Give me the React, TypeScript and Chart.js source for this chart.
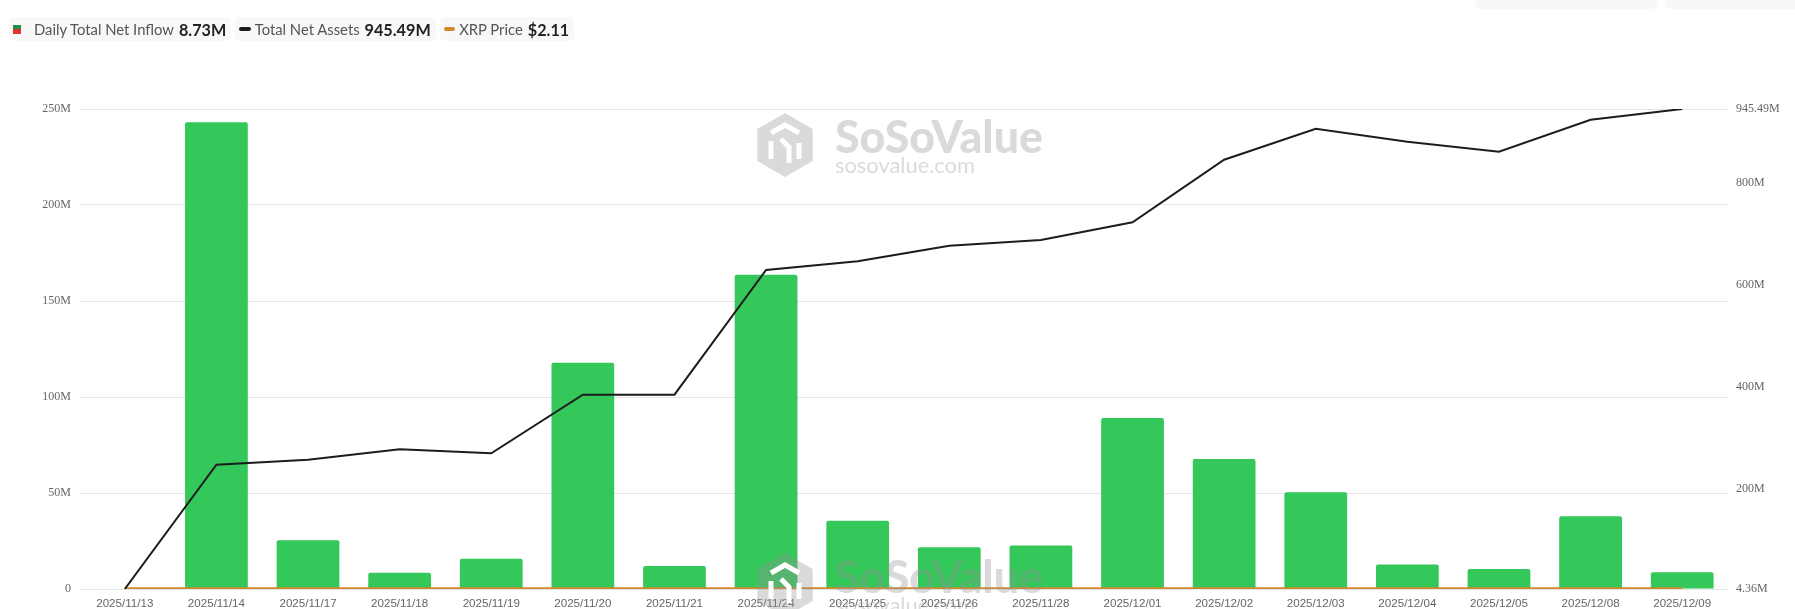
import React, { useEffect, useRef } from "react";
import { Chart, registerables } from "chart.js";

Chart.register(...registerables);

const categories = [
  "2025/11/13", "2025/11/14", "2025/11/17", "2025/11/18", "2025/11/19", "2025/11/20",
  "2025/11/21", "2025/11/24", "2025/11/25", "2025/11/26", "2025/11/28", "2025/12/01",
  "2025/12/02", "2025/12/03", "2025/12/04", "2025/12/05", "2025/12/08", "2025/12/09",
];

// Daily Total Net Inflow, millions USD
const dailyNetInflow = [
  0, 243.1, 25.4, 8.5, 15.8, 117.8, 12.0, 163.7, 35.5, 21.7, 22.6, 89.1,
  67.7, 50.4, 12.8, 10.4, 37.9, 8.73,
];

// Total Net Assets, millions USD
const totalNetAssets = [
  4.36, 248.1, 257.9, 278.3, 270.4, 385.3, 385.3, 629.8, 646.9, 677.5, 688.6, 723.3,
  846.1, 906.9, 881.4, 861.8, 924.5, 945.49,
];

// XRP Price, USD
const xrpPrice = [
  2.42, 2.3, 2.2, 2.17, 2.12, 2.0, 1.95, 2.2, 2.22, 2.2, 2.2, 2.05,
  2.2, 2.18, 2.08, 2.05, 2.08, 2.11,
];

const leftTicks = [0, 50, 100, 150, 200, 250];
const rightTicks = [4.36, 200, 400, 600, 800, 945.49];

const legendItems = [
  { label: "Daily Total Net Inflow", value: "8.73M", kind: "bar" },
  { label: "Total Net Assets", value: "945.49M", kind: "black" },
  { label: "XRP Price", value: "$2.11", kind: "orange" },
];

const GREEN = "#34c759";
const BLACK = "#1c1c1c";
const ORANGE = "#d4882a";

const watermarkPlugin = {
  id: "watermark",
  afterDatasetsDraw(chart: any) {
    const ctx = chart.ctx;
    const draw = (dy: number) => {
      ctx.save();
      ctx.fillStyle = "rgba(150,150,150,0.35)";
      const cx = 785, cy = 145 + dy, r = 32;
      ctx.beginPath();
      for (let i = 0; i < 6; i++) {
        const a = Math.PI / 2 + (i * Math.PI) / 3;
        const px = cx + r * Math.cos(a);
        const py = cy - r * Math.sin(a);
        if (i === 0) ctx.moveTo(px, py);
        else ctx.lineTo(px, py);
      }
      ctx.closePath();
      ctx.fill();
      ctx.globalCompositeOperation = "destination-out";
      ctx.lineWidth = 5;
      ctx.strokeStyle = "rgba(0,0,0,1)";
      ctx.beginPath();
      ctx.moveTo(cx - 14, cy - 12);
      ctx.lineTo(cx, cy - 20);
      ctx.lineTo(cx + 14, cy - 12);
      ctx.moveTo(cx - 14, cy - 4);
      ctx.lineTo(cx - 14, cy + 14);
      ctx.moveTo(cx + 14, cy - 2);
      ctx.lineTo(cx + 14, cy + 14);
      ctx.moveTo(cx - 4, cy - 6);
      ctx.lineTo(cx + 4, cy + 2);
      ctx.lineTo(cx + 4, cy + 18);
      ctx.stroke();
      ctx.restore();

      ctx.save();
      ctx.fillStyle = "rgba(150,150,150,0.35)";
      ctx.textBaseline = "alphabetic";
      ctx.textAlign = "left";
      ctx.font = "900 100px Lato";
      let w = ctx.measureText("SoSoValue").width;
      const s1 = (100 * 208) / w;
      ctx.font = `900 ${s1}px Lato`;
      ctx.fillText("SoSoValue", 835, 153 + dy);
      ctx.font = "400 100px Lato";
      w = ctx.measureText("sosovalue.com").width;
      const s2 = (100 * 140) / w;
      ctx.font = `400 ${s2}px Lato`;
      ctx.fillText("sosovalue.com", 835, 173 + dy);
      ctx.restore();
    };
    draw(0);
    draw(440);
  },
};

function LegendIcon({ kind }: { kind: string }) {
  if (kind === "bar") {
    return (
      <span style={{ display: "inline-block", width: 8, height: 9, marginLeft: 4, marginRight: 13 }}>
        <span style={{ display: "block", height: 4.5, background: "#1f8f4a" }} />
        <span style={{ display: "block", height: 4.5, background: "#e0332b" }} />
      </span>
    );
  }
  return (
    <span
      style={{
        display: "inline-block",
        width: 11.5,
        height: 4,
        borderRadius: 2,
        background: kind === "black" ? BLACK : ORANGE,
        marginLeft: 4,
        marginRight: 4,
      }}
    />
  );
}

export default function App() {
  const canvasRef = useRef<HTMLCanvasElement | null>(null);

  useEffect(() => {
    const canvas = canvasRef.current;
    if (!canvas) return;
    const chart = new Chart(canvas, {
      type: "bar",
      data: {
        labels: categories,
        datasets: [
          {
            type: "line",
            label: "Total Net Assets",
            data: totalNetAssets,
            yAxisID: "y1",
            borderColor: BLACK,
            borderWidth: 2,
            pointRadius: 0,
            tension: 0,
            order: 0,
          },
          {
            type: "line",
            label: "XRP Price",
            data: xrpPrice,
            yAxisID: "y2",
            borderColor: ORANGE,
            borderWidth: 2.5,
            pointRadius: 0,
            tension: 0,
            order: 1,
          },
          {
            type: "bar",
            label: "Daily Total Net Inflow",
            data: dailyNetInflow,
            yAxisID: "y",
            backgroundColor: GREEN,
            borderRadius: { topLeft: 2, topRight: 2, bottomLeft: 0, bottomRight: 0 },
            borderSkipped: "start",
            categoryPercentage: 1,
            barPercentage: 0.685,
            order: 2,
          },
        ],
      } as any,
      options: {
        animation: false,
        responsive: false,
        devicePixelRatio: 1,
        layout: { padding: { top: 109, left: 0, right: 0, bottom: 0 } },
        plugins: {
          legend: { display: false },
          tooltip: { enabled: false },
        },
        scales: {
          x: {
            type: "category",
            offset: true,
            grid: { display: false, drawTicks: false },
            border: { display: false },
            ticks: {
              color: "#666",
              font: { family: "'Liberation Sans', Arial, sans-serif", size: 11.6 },
              padding: 8,
              maxRotation: 0,
              autoSkip: false,
            },
            afterFit: (s: any) => {
              s.height = 20;
            },
          },
          y: {
            position: "left",
            min: 0,
            max: 250,
            afterBuildTicks: (s: any) => {
              s.ticks = leftTicks.map((v) => ({ value: v }));
            },
            ticks: {
              color: "#666",
              font: { family: "'Liberation Serif', 'Times New Roman', serif", size: 12 },
              padding: 8,
              callback: (v: any) => (Number(v) === 0 ? "0" : `${v}M`),
            },
            grid: { color: "#e5e5e5", drawTicks: false, lineWidth: 1 },
            border: { display: false },
            afterFit: (s: any) => {
              s.width = 79;
            },
          },
          y1: {
            position: "right",
            min: 4.36,
            max: 945.49,
            afterBuildTicks: (s: any) => {
              s.ticks = rightTicks.map((v) => ({ value: v }));
            },
            ticks: {
              color: "#666",
              font: { family: "'Liberation Serif', 'Times New Roman', serif", size: 12 },
              padding: 8,
              callback: (v: any) => `${v}M`,
            },
            grid: { display: false, drawTicks: false },
            border: { display: false },
            afterFit: (s: any) => {
              s.width = 67;
            },
          },
          y2: {
            display: false,
            min: 0,
            max: 2000,
          },
        },
      } as any,
      plugins: [watermarkPlugin],
    });
    return () => chart.destroy();
  }, []);

  return (
    <div
      style={{
        position: "absolute",
        left: 0,
        top: 0,
        width: 1795,
        height: 609,
        background: "#fff",
        overflow: "hidden",
      }}
    >
      <canvas
        ref={canvasRef}
        width={1795}
        height={609}
        style={{ position: "absolute", left: 0, top: 0, width: 1795, height: 609 }}
      />
      <div
        style={{
          position: "absolute",
          left: 1476,
          top: -22,
          width: 181,
          height: 31,
          background: "#f7f7f7",
          borderRadius: 6,
        }}
      />
      <div
        style={{
          position: "absolute",
          left: 1665,
          top: -22,
          width: 150,
          height: 31,
          background: "#f7f7f7",
          borderRadius: 6,
        }}
      />
      <div
        style={{
          position: "absolute",
          left: 9,
          top: 17,
          display: "flex",
          gap: 4,
          fontFamily: "Lato, 'Noto Sans', sans-serif",
        }}
      >
        {legendItems.map((it) => (
          <div
            key={it.label}
            style={{
              display: "flex",
              alignItems: "center",
              height: 24,
              background: "#f8f8f8",
              borderRadius: 5,
              paddingRight: 5,
              whiteSpace: "nowrap",
            }}
          >
            <LegendIcon kind={it.kind} />
            <span style={{ fontSize: 14.8, color: "#555" }}>{it.label}</span>
            <span style={{ fontSize: 16.2, fontWeight: 700, color: "#222", marginLeft: 5 }}>{it.value}</span>
          </div>
        ))}
      </div>
    </div>
  );
}
